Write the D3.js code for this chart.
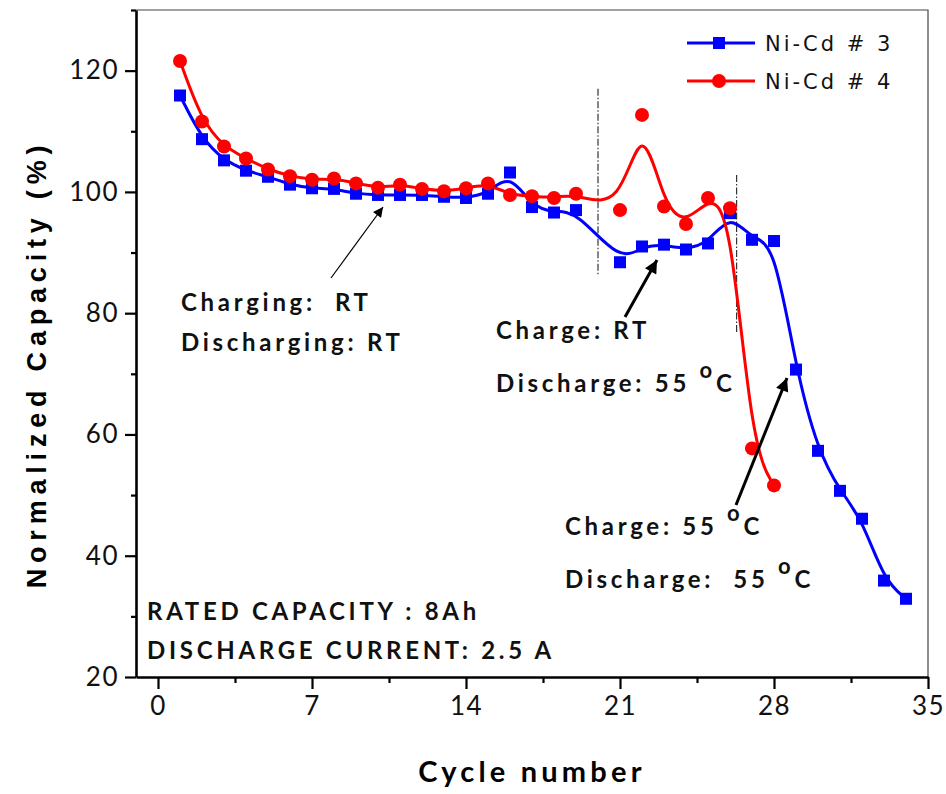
<!DOCTYPE html>
<html>
<head>
<meta charset="utf-8">
<script src="https://cdn.jsdelivr.net/npm/d3@7"></script>
<style>
  html, body { margin: 0; padding: 0; background: #fff; }
  svg { display: block; }
  .tick text { font-family: Lato, "Open Sans", sans-serif; }
  text.note { white-space: pre; }
</style>
</head>
<body>
<svg id="chart" width="946" height="794"></svg>
<script>
// Cycle-life data for two Ni-Cd cells (capacity normalised to the rated 8 Ah)
const cyclesCell3 = [1,2,3,4,5,6,7,8,9,10,11,12,13,14,15,16,17,18,19,
                     21,22,23,24,25,26,27,28,29,30,31,32,33,34];
const capacityCell3 = [115.9,108.7,105.2,103.5,102.5,101.2,100.6,100.5,99.7,99.5,
                       99.5,99.5,99.2,99.0,99.7,103.2,97.5,96.6,97.0,
                       88.4,91.0,91.3,90.5,91.5,96.5,92.1,91.9,70.7,57.3,50.7,46.1,35.9,32.9];
const cyclesCell4 = [1,2,3,4,5,6,7,8,9,10,11,12,13,14,15,16,17,18,19,
                     21,22,23,24,25,26,27,28];
const capacityCell4 = [121.6,111.6,107.5,105.5,103.7,102.6,102.0,102.2,101.4,100.7,
                       101.2,100.5,100.1,100.6,101.4,99.5,99.3,99.0,99.7,
                       97.0,112.7,97.6,94.7,99.0,97.3,57.7,51.6];
const seriesNames = ["Ni-Cd # 3", "Ni-Cd # 4"];
const xTickValues = [0, 7, 14, 21, 28, 35];
const yTickValues = [20, 40, 60, 80, 100, 120];
const xMinorTicks = [3.5, 10.5, 17.5, 24.5, 31.5];
const yMinorTicks = [30, 50, 70, 90, 110, 130];
// Cycles where the test temperature regime changes
const regimeChanges = [{x: 20, y0: 86.2, y1: 117.0}, {x: 26.3, y0: 76.8, y1: 102.8}];

const svg = d3.select("#chart");
svg.append("rect").attr("width", 946).attr("height", 794).attr("fill", "#fff");

const plot = {left: 136, right: 928, top: 10, bottom: 677};
const x = d3.scaleLinear().domain([-1, 35]).range([plot.left, plot.right]);
const y = d3.scaleLinear().domain([20, 130]).range([plot.bottom, plot.top]);

// frame: thin top/right border
svg.append("path")
  .attr("d", `M${plot.left},${plot.top}H${plot.right}V${plot.bottom}`)
  .attr("fill", "none").attr("stroke", "#444").attr("stroke-width", 1.2);

// axes
const xAxis = svg.append("g").attr("transform", `translate(0,${plot.bottom})`)
  .call(d3.axisBottom(x).tickValues(xTickValues).tickSize(12).tickPadding(8).tickSizeOuter(0));
svg.append("g").attr("transform", `translate(0,${plot.bottom})`)
  .call(d3.axisBottom(x).tickValues(xMinorTicks).tickSize(6).tickFormat("").tickSizeOuter(0))
  .select(".domain").remove();
const yAxis = svg.append("g").attr("transform", `translate(${plot.left},0)`)
  .call(d3.axisLeft(y).tickValues(yTickValues).tickSize(11).tickPadding(6).tickSizeOuter(0));
svg.append("g").attr("transform", `translate(${plot.left},0)`)
  .call(d3.axisLeft(y).tickValues(yMinorTicks).tickSize(5).tickFormat("").tickSizeOuter(0))
  .select(".domain").remove();

svg.selectAll(".domain").attr("stroke", "#000").attr("stroke-width", 2.6);
svg.selectAll(".tick line").attr("stroke", "#000").attr("stroke-width", 2.2);
xAxis.selectAll(".tick text").attr("font-size", 26).attr("fill", "#111")
  .attr("letter-spacing", 1.5);
yAxis.selectAll(".tick text").attr("font-size", 26).attr("fill", "#111")
  .attr("letter-spacing", 1.5);

// axis titles
svg.append("text")
  .attr("x", 532).attr("y", 782)
  .attr("text-anchor", "middle")
  .attr("font-family", "Lato, sans-serif").attr("font-weight", 700)
  .attr("font-size", 29).attr("letter-spacing", 4.2)
  .text("Cycle number");
svg.append("text")
  .attr("transform", "translate(46,364) rotate(-90)")
  .attr("text-anchor", "middle")
  .attr("font-family", "'Liberation Sans', Arial, sans-serif").attr("font-weight", 700)
  .attr("font-size", 27).attr("letter-spacing", 5.8)
  .text("Normalized Capacity (%)");

// regime-change markers
svg.selectAll("line.regime").data(regimeChanges).join("line")
  .attr("class", "regime")
  .attr("x1", d => x(d.x)).attr("x2", d => x(d.x))
  .attr("y1", d => y(d.y1)).attr("y2", d => y(d.y0))
  .attr("stroke", "#333").attr("stroke-width", 1.2)
  .attr("stroke-dasharray", "7,2,1.5,2");

// smoothed curves and markers
const series = [
  {name: seriesNames[0], color: "#0000ff", shape: "square",
   pts: cyclesCell3.map((c, i) => [c, capacityCell3[i]])},
  {name: seriesNames[1], color: "#ff0000", shape: "circle",
   pts: cyclesCell4.map((c, i) => [c, capacityCell4[i]])}
];
const line = d3.line().x(d => x(d[0])).y(d => y(d[1])).curve(d3.curveBasis);

function drawMarker(g, shape, color, cx, cy) {
  if (shape === "square") {
    g.append("rect").attr("x", cx - 6).attr("y", cy - 6)
      .attr("width", 12).attr("height", 12).attr("fill", color);
  } else {
    g.append("circle").attr("cx", cx).attr("cy", cy).attr("r", 7).attr("fill", color);
  }
}

series.forEach(s => {
  svg.append("path").datum(s.pts)
    .attr("d", line).attr("fill", "none")
    .attr("stroke", s.color).attr("stroke-width", 3);
});
series.forEach(s => {
  const g = svg.append("g");
  s.pts.forEach(p => drawMarker(g, s.shape, s.color, x(p[0]), y(p[1])));
});

// legend
const legend = svg.append("g");
series.forEach((s, i) => {
  const ly = 43 + i * 38;
  legend.append("line").attr("x1", 687).attr("x2", 755).attr("y1", ly).attr("y2", ly)
    .attr("stroke", s.color).attr("stroke-width", 3);
  drawMarker(legend, s.shape, s.color, 719, ly);
  legend.append("text").attr("x", 765).attr("y", ly + 8)
    .attr("font-family", "'DejaVu Sans', sans-serif").attr("font-size", 21)
    .attr("letter-spacing", 3).attr("fill", "#111")
    .text(s.name);
});

// annotations
svg.append("defs").html(`
  <marker id="headThin" viewBox="0 0 10 10" refX="10" refY="5" markerWidth="14" markerHeight="10"
    markerUnits="userSpaceOnUse" orient="auto"><path d="M0,0L10,5L0,10z" fill="#000"/></marker>
  <marker id="headBold" viewBox="0 0 10 10" refX="10" refY="5" markerWidth="20" markerHeight="13"
    markerUnits="userSpaceOnUse" orient="auto"><path d="M0,0L10,5L0,10z" fill="#000"/></marker>`);

function arrow(x1, y1, x2, y2, w, head) {
  svg.append("line").attr("x1", x1).attr("y1", y1).attr("x2", x2).attr("y2", y2)
    .attr("stroke", "#000").attr("stroke-width", w).attr("marker-end", `url(#${head})`);
}
arrow(331, 278, 383, 207, 1.2, "headThin");
arrow(625, 317, 657, 260, 3, "headBold");
arrow(736, 505, 787, 378, 3, "headBold");

function label(xp, yp, parts) {
  const t = svg.append("text").attr("class", "note").attr("x", xp).attr("y", yp)
    .attr("font-family", "Lato, sans-serif").attr("font-weight", 700)
    .attr("font-size", 24).attr("letter-spacing", 3.7).attr("fill", "#111");
  parts.forEach(p => {
    const ts = t.append("tspan").text(p.t);
    if (p.sup) ts.attr("dy", -14).attr("font-size", 22);
    if (p.down) ts.attr("dy", 14);
  });
}
label(181, 311, [{t: "Charging:  RT"}]);
label(181, 351, [{t: "Discharging: RT"}]);
label(496, 339, [{t: "Charge: RT"}]);
label(496, 392, [{t: "Discharge: 55 "}, {t: "o", sup: true}, {t: "C", down: true}]);
label(565, 535, [{t: "Charge: 55 "}, {t: "o", sup: true}, {t: "C", down: true}]);
label(565, 588, [{t: "Discharge:  55 "}, {t: "o", sup: true}, {t: "C", down: true}]);
label(147, 620, [{t: "RATED CAPACITY : 8Ah"}]);
label(147, 659, [{t: "DISCHARGE CURRENT: 2.5 A"}]);
</script>
</body>
</html>
